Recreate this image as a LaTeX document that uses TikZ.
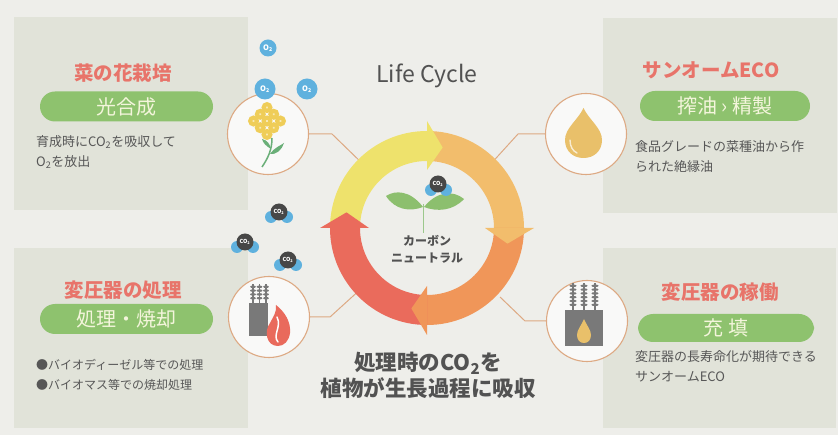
\documentclass[tikz,border=0pt]{standalone}
\usepackage{fontspec}
\setmainfont{Noto Sans CJK JP}
\usetikzlibrary{calc}

\definecolor{paper}{HTML}{EEEEEA}
\definecolor{panelbg}{HTML}{E1E3D9}
\definecolor{titlered}{HTML}{E8746A}
\definecolor{pillgreen}{HTML}{8EC26E}
\definecolor{pilltext}{HTML}{F4F5DC}
\definecolor{bodygray}{HTML}{575757}
\definecolor{headgray}{HTML}{525252}
\definecolor{ringtan}{HTML}{DDA983}
\definecolor{bubbleblue}{HTML}{5FB1DE}
\definecolor{co2dark}{HTML}{474747}
\definecolor{segyellow}{HTML}{EEE26C}
\definecolor{seglight}{HTML}{F2BD6C}
\definecolor{segorange}{HTML}{F09659}
\definecolor{segred}{HTML}{EA6B5C}
\definecolor{leafgreen}{HTML}{8CBF6E}
\definecolor{stemgreen}{HTML}{9CC88C}
\definecolor{flowery}{HTML}{EFCD58}
\definecolor{flowerstem}{HTML}{6AAF78}
\definecolor{oilgold}{HTML}{E9C06A}
\definecolor{iron}{HTML}{797979}
\definecolor{flame}{HTML}{E96A5C}

\tikzset{
  panel/.style={rectangle, fill=panelbg, inner sep=0pt, anchor=north west},
  paneltitle/.style={text=titlered, font=\fontsize{19.5}{22}\selectfont\bfseries, inner sep=0pt},
  pill/.style={rectangle, fill=pillgreen, rounded corners=15pt, minimum width=173pt,
    minimum height=30pt, text=pilltext, font=\fontsize{20}{22}\selectfont, inner sep=0pt},
  bodytext/.style={text=bodygray, font=\fontsize{13}{15}\selectfont, anchor=west, inner sep=0pt},
  iconring/.style={circle, draw=ringtan, line width=1.1pt, fill=white!65!paper,
    minimum size=81pt, inner sep=0pt},
  link/.style={draw=ringtan, line width=1pt},
  obubble/.style={circle, fill=bubbleblue, text=white, inner sep=0pt,
    font=\fontsize{7.5}{8}\selectfont\bfseries},
  co2dot/.style={circle, fill=co2dark, text=white, inner sep=0pt, minimum size=17pt,
    font=\fontsize{5.5}{6}\selectfont\bfseries},
  co2cloud/.pic={
    \fill[bubbleblue] (-8,5) circle (6);
    \fill[bubbleblue] (8,5) circle (6);
    \node[co2dot] {CO\textsubscript{2}};
  }
}

% one coloured quarter of the cycle ring, and its arrow head
\newcommand\ringseg[3]{%
  \fill[#3] ([shift={(#1:97)}]rc) arc[start angle=#1, end angle=#2, radius=97]
    -- ([shift={(#2:67)}]rc) arc[start angle=#2, end angle=#1, radius=67] -- cycle;}
\newcommand\ringhead[2]{%
  \fill[#2] ([shift={(#1:58)}]rc) -- ([shift={(#1:107)}]rc) -- ([shift={(#1+11:82)}]rc) -- cycle;}
% porcelain bushing of a transformer: x, top, bottom, disc half-width, disc count
\newcommand\bushing[5]{%
  \fill[iron] (#1-0.9,#2) rectangle (#1+0.9,#3);
  \foreach \k in {1,...,#5} \fill[iron] (#1,#2+\k*3.8-1) ellipse (#4 and 1.3);}

\begin{document}
\begin{tikzpicture}[x=1pt, y=-1pt]
\useasboundingbox (0,0) rectangle (838,435);
\fill[paper] (0,0) rectangle (838,435);

% ---------- panels ----------
\node[panel, minimum width=234pt, minimum height=193pt] (p1) at (14,17) {};
\node[panel, minimum width=234pt, minimum height=180pt] (p2) at (14,248) {};
\node[panel, minimum width=234pt, minimum height=195pt] (p3) at (603,18) {};
\node[panel, minimum width=233pt, minimum height=180pt] (p4) at (603,248) {};

% ---------- ring centre and connectors ----------
\coordinate (rc) at (427,228);
\node[iconring] (c1) at (268,134) {};
\node[iconring] (c2) at (586,134) {};
\node[iconring] (c3) at (269,317) {};
\node[iconring] (c4) at (587,321) {};

\coordinate (k1) at (332,134);  \coordinate (e1) at (367,168);
\coordinate (k2) at (518,134);  \coordinate (e2) at (488,167);
\coordinate (k3) at (330,317);  \coordinate (e3) at (363,287);
\coordinate (k4) at (525,321);  \coordinate (e4) at (500,297);
\draw[link] (c1.east) -- (k1) -- (e1);
\draw[link] (c2.west) -- (k2) -- (e2);
\draw[link] (c3.east) -- (k3) -- (e3);
\draw[link] (c4.west) -- (k4) -- (e4);

% ---------- cycle ring ----------
\ringseg{180}{270}{segyellow}
\ringseg{270}{360}{seglight}
\ringseg{0}{90}{segorange}
\ringseg{90}{180}{segred}
\ringhead{270}{segyellow}
\ringhead{360}{seglight}
\ringhead{90}{segorange}
\ringhead{180}{segred}

% ---------- sprout with CO2 ----------
\fill[leafgreen] (423,207) .. controls (410,190) and (395,190) .. (386,196)
  .. controls (395,210) and (410,212) .. (423,207);
\fill[leafgreen] (424,207) .. controls (437,191) and (453,190) .. (464,199)
  .. controls (453,211) and (437,212) .. (424,207);
\draw[stemgreen, line width=1.6pt] (423.5,204) -- (423.5,233);
\fill[bubbleblue] (431,190) circle (6);
\fill[bubbleblue] (446,190) circle (6);
\node[co2dot] (cc) at (438,184) {CO\textsubscript{2}};
\node[text=headgray, font=\fontsize{12}{14}\selectfont\bfseries, inner sep=0pt]
  (cn1) at (427,241) {カーボン};
\node[text=headgray, font=\fontsize{12}{14}\selectfont\bfseries, inner sep=0pt]
  (cn2) at (427,258) {ニュートラル};

% ---------- O2 and CO2 bubbles ----------
\node[obubble, minimum size=17pt] (o1) at (268,48) {O\textsubscript{2}};
\node[obubble, minimum size=21pt] (o2) at (265,89) {O\textsubscript{2}};
\node[obubble, minimum size=21pt] (o3) at (307,89) {O\textsubscript{2}};
\pic at (279,212) {co2cloud};
\pic at (245,242) {co2cloud};
\pic at (288,260) {co2cloud};

% ---------- icon: rape blossom ----------
\begin{scope}[shift={(267,121)}, rotate=45]
  \foreach \i in {-1,0,1} \foreach \j in {-1,0,1} {
    \fill[flowery] (\i*9.5,\j*9.5) circle (5.6);
    \fill[white!55!flowery] (\i*9.5,\j*9.5) circle (1.3);
  }
\end{scope}
\draw[flowerstem, line width=1.5pt] (272,138) .. controls (272,150) and (268,158) .. (262,167);
\fill[flowerstem] (270,154) .. controls (275,147) and (280,146) .. (284,143)
  .. controls (282,150) and (276,155) .. (270,154);
\fill[flowerstem] (271,149) .. controls (266,146) and (263,143) .. (262,139)
  .. controls (267,140) and (270,144) .. (271,149);

% ---------- icon: oil drop ----------
\fill[oilgold] (583.5,108) .. controls (578,120) and (565,128) .. (565,140)
  .. controls (565,151) and (573,158) .. (583.5,158)
  .. controls (594,158) and (602,151) .. (602,140)
  .. controls (602,128) and (589,120) .. (583.5,108) -- cycle;
\draw[white, opacity=0.7, line width=1.4pt, line cap=round]
  (570,140) .. controls (570,147) and (573,151) .. (577,153);

% ---------- icon: transformer with flame ----------
\bushing{253}{284}{303}{2.9}{4}
\bushing{259.5}{284}{303}{2.9}{4}
\bushing{266}{284}{303}{2.9}{4}
\fill[iron] (249,303) rectangle (268,336);
\fill[flame] (278,346) .. controls (266,346) and (264,331) .. (270,323)
  .. controls (273,317) and (277,312) .. (276,305)
  .. controls (285,312) and (291,322) .. (290,333)
  .. controls (289,341) and (284,346) .. (278,346) -- cycle;
\draw[white, line width=1.5pt, line cap=round]
  (278,342) .. controls (272,335) and (282,327) .. (277,317);

% ---------- icon: transformer filled with oil ----------
\bushing{573}{283}{311}{3.6}{6}
\bushing{584}{283}{311}{3.6}{6}
\bushing{595}{283}{311}{3.6}{6}
\fill[iron] (565,310) rectangle (603,346);
\fill[oilgold] (584,319) .. controls (581,326) and (577,330) .. (577,335)
  .. controls (577,340) and (580,343) .. (584,343)
  .. controls (588,343) and (591,340) .. (591,335)
  .. controls (591,330) and (587,326) .. (584,319) -- cycle;

% ---------- panel texts ----------
\node[paneltitle] (t1) at (123,73) {菜の花栽培};
\node[pill] (g1) at (126.5,106.5) {光合成};
\node[bodytext] (b1a) at (36,142) {育成時にCO\textsubscript{2}を吸収して};
\node[bodytext] (b1b) at (36,162) {O\textsubscript{2}を放出};

\node[paneltitle] (t2) at (123,290) {変圧器の処理};
\node[pill] (g2) at (126.5,319) {処理・焼却};
\node[bodytext, font=\fontsize{12}{14}\selectfont] (b2a) at (36,365) {●バイオディーゼル等での処理};
\node[bodytext, font=\fontsize{12}{14}\selectfont] (b2b) at (36,385) {●バイオマス等での焼却処理};

\node[paneltitle] (t3) at (711,70) {サンオームECO};
\node[pill, minimum width=170pt] (g3) at (725,106) {搾油 › 精製};
\node[bodytext] (b3a) at (635,147) {食品グレードの菜種油から作};
\node[bodytext] (b3b) at (635,167) {られた絶縁油};

\node[paneltitle] (t4) at (720,292) {変圧器の稼働};
\node[pill, minimum width=176pt, minimum height=28pt] (g4) at (726,328) {充\ 填};
\node[bodytext] (b4a) at (635,357) {変圧器の長寿命化が期待できる};
\node[bodytext] (b4b) at (635,377) {サンオームECO};

% ---------- headings ----------
\node[text=headgray, font=\fontsize{23}{26}\selectfont, inner sep=0pt] (lc) at (427,76) {Life Cycle};
\node[text=headgray, font=\fontsize{21.5}{24}\selectfont\bfseries, inner sep=0pt]
  (m1) at (428,363) {処理時のCO\textsubscript{2}を};
\node[text=headgray, font=\fontsize{21.5}{24}\selectfont\bfseries, inner sep=0pt]
  (m2) at (428,388) {植物が生長過程に吸収};
\end{tikzpicture}
\end{document}
